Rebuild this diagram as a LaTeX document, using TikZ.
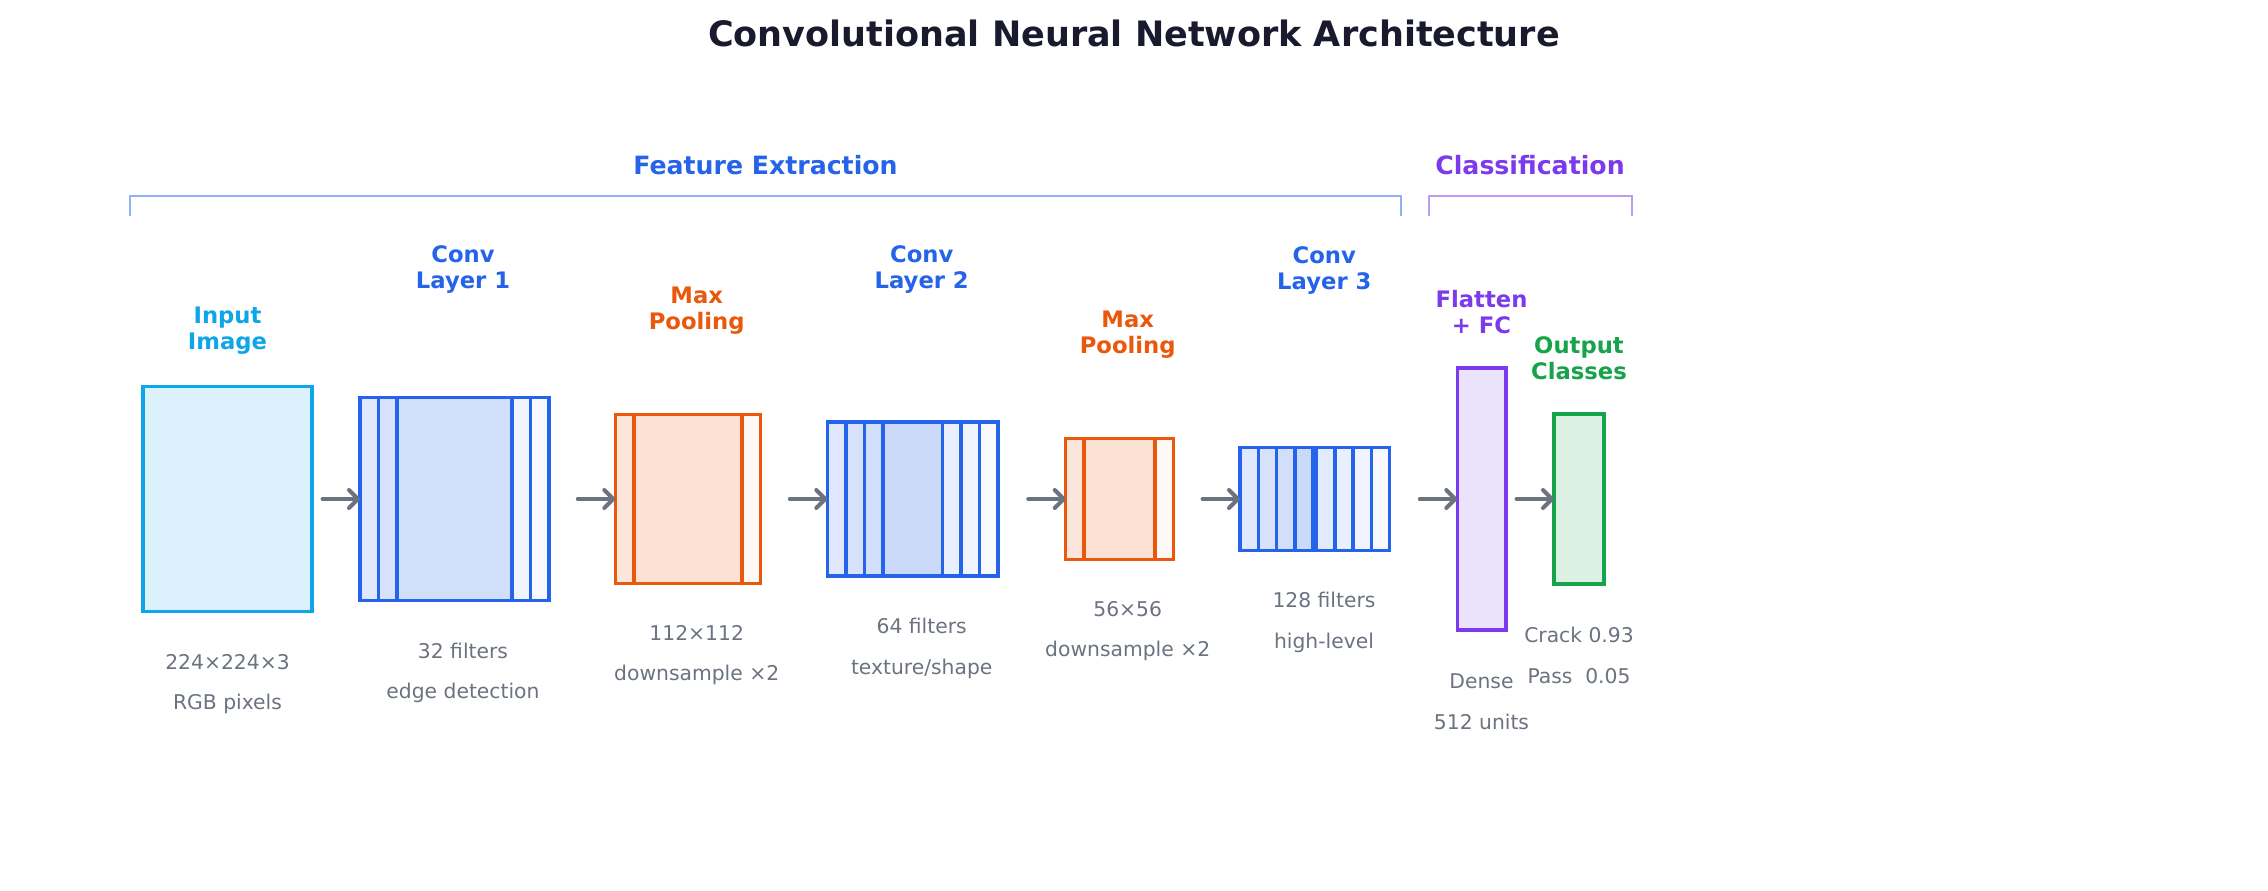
\documentclass[tikz,border=0pt]{standalone}
\usepackage{fontspec}
\setmainfont{DejaVu Sans}
\usetikzlibrary{arrows.meta,calc}
\definecolor{skyc}{HTML}{0EA5E9}
\definecolor{bluec}{HTML}{2563EB}
\definecolor{orangec}{HTML}{EA580C}
\definecolor{purplec}{HTML}{7C3AED}
\definecolor{greenc}{HTML}{16A34A}
\definecolor{grayc}{HTML}{6B7280}
\definecolor{titlec}{HTML}{1A1A2E}
\begin{document}
\begin{tikzpicture}[x=1pt,y=-1pt,
  lay/.style={rectangle, draw=#1, line width=3.5pt, fill=#1, inner sep=0pt, outer sep=0pt, anchor=west},
  front/.style={fill opacity=0.15},
  back/.style={fill opacity=0.035},
  toplab/.style={font=\bfseries\fontsize{22.7}{26}\selectfont, align=center, text=#1},
  botlab/.style={font=\fontsize{20.3}{40.5}\selectfont, align=center, text=grayc},
  flow/.style={draw=grayc, line width=4pt, line cap=round, -{Straight Barb[length=9pt, width=18pt, line cap=round, line join=round]}},
  sect/.style={font=\bfseries\fontsize{25.2}{30}\selectfont, text=#1},
  brk/.style={draw=#1!50, line width=2.5pt},
]
\useasboundingbox (0,0) rectangle (2268,891);

% title
\node[font=\bfseries\fontsize{35}{42}\selectfont, text=titlec] (title) at (1134,33) {Convolutional Neural Network Architecture};

% section headers and brackets
\node[sect=bluec] (secfe) at (765.5,165) {Feature Extraction};
\node[sect=purplec] (seccl) at (1530,165) {Classification};
\draw[brk=bluec] (130,216) -- (130,196) -- (1401,196) -- (1401,216);
\draw[brk=purplec] (1429,216) -- (1429,196) -- (1632,196) -- (1632,216);

% input
\node[lay=skyc, front, minimum width=169pt, minimum height=225pt] (inp) at (143,499) {};

% conv 1
\node[lay=bluec, front, minimum width=152pt, minimum height=203pt] (c1a) at (360,499) {};
\node[lay=bluec, back, minimum width=152pt, minimum height=203pt] (c1b) at (378.5,499) {};
\node[lay=bluec, back, minimum width=152pt, minimum height=203pt] (c1c) at (397,499) {};

% pool 1
\node[lay=orangec, front, minimum width=126.5pt, minimum height=169pt] (p1a) at (615.3,499) {};
\node[lay=orangec, back, minimum width=126.5pt, minimum height=169pt] (p1b) at (634,499) {};

% conv 2
\node[lay=bluec, front, minimum width=115.3pt, minimum height=154.3pt] (c2a) at (827.3,499) {};
\node[lay=bluec, back, minimum width=115.3pt, minimum height=154.3pt] (c2b) at (845.8,499) {};
\node[lay=bluec, back, minimum width=115.3pt, minimum height=154.3pt] (c2c) at (864.3,499) {};
\node[lay=bluec, back, minimum width=115.3pt, minimum height=154.3pt] (c2d) at (882.8,499) {};

% pool 2
\node[lay=orangec, front, minimum width=89.3pt, minimum height=121pt] (p2a) at (1065.7,499) {};
\node[lay=orangec, back, minimum width=89.3pt, minimum height=121pt] (p2b) at (1084,499) {};

% conv 3
\node[lay=bluec, front, minimum width=76.5pt, minimum height=103pt] (c3a) at (1240,499) {};
\node[lay=bluec, back, minimum width=76.5pt, minimum height=103pt] (c3b) at (1258.3,499) {};
\node[lay=bluec, back, minimum width=76.5pt, minimum height=103pt] (c3c) at (1276.6,499) {};
\node[lay=bluec, back, minimum width=76.5pt, minimum height=103pt] (c3d) at (1294.9,499) {};
\node[lay=bluec, back, minimum width=76.5pt, minimum height=103pt] (c3e) at (1313.2,499) {};

% flatten + output
\node[lay=purplec, front, minimum width=48.7pt, minimum height=262pt] (fc) at (1457.3,499) {};
\node[lay=greenc, front, minimum width=50pt, minimum height=170pt] (outp) at (1554,499) {};

% arrows
\coordinate (s1) at ($(c1a.west)+(-37.5,0)$);
\coordinate (s2) at ($(p1a.west)+(-37.5,0)$);
\coordinate (s3) at ($(c2a.west)+(-37.5,0)$);
\coordinate (s4) at ($(p2a.west)+(-37.5,0)$);
\coordinate (s5) at ($(c3a.west)+(-37.5,0)$);
\coordinate (s6) at ($(fc.west)+(-37.5,0)$);
\coordinate (s7) at ($(outp.west)+(-37.5,0)$);
\draw[flow] (s1) -- (c1a.west);
\draw[flow] (s2) -- (p1a.west);
\draw[flow] (s3) -- (c2a.west);
\draw[flow] (s4) -- (p2a.west);
\draw[flow] (s5) -- (c3a.west);
\draw[flow] (s6) -- (fc.west);
\draw[flow] (s7) -- (outp.west);

% top labels
\node[toplab=skyc] (linp) at (227.5,331) {Input\\Image};
\node[toplab=bluec] (lc1) at (463,269.3) {Conv\\Layer 1};
\node[toplab=orangec] (lp1) at (696.7,310.3) {Max\\Pooling};
\node[toplab=bluec] (lc2) at (921.7,269.2) {Conv\\Layer 2};
\node[toplab=orangec] (lp2) at (1127.7,334.7) {Max\\Pooling};
\node[toplab=bluec] (lc3) at (1324.3,271) {Conv\\Layer 3};
\node[toplab=purplec] (lfc) at (1481.5,312) {Flatten\\+ FC};
\node[toplab=greenc] (lout) at (1579,358.7) {Output\\Classes};

% bottom labels
\node[botlab] (binp) at (227.5,684.2) {224×224×3\\RGB pixels};
\node[botlab] (bc1) at (463,672.7) {32 filters\\edge detection};
\node[botlab] (bp1) at (696.7,655.2) {112×112\\downsample ×2};
\node[botlab] (bc2) at (921.7,648.2) {64 filters\\texture/shape};
\node[botlab] (bp2) at (1127.7,631.2) {56×56\\downsample ×2};
\node[botlab] (bc3) at (1324,622.4) {128 filters\\high-level};
\node[botlab] (bfc) at (1481.5,701.8) {Dense\\512 units};
\node[botlab] (bout) at (1579,655.3) {Crack 0.93\\Pass\ \ 0.05};
\end{tikzpicture}
\end{document}
